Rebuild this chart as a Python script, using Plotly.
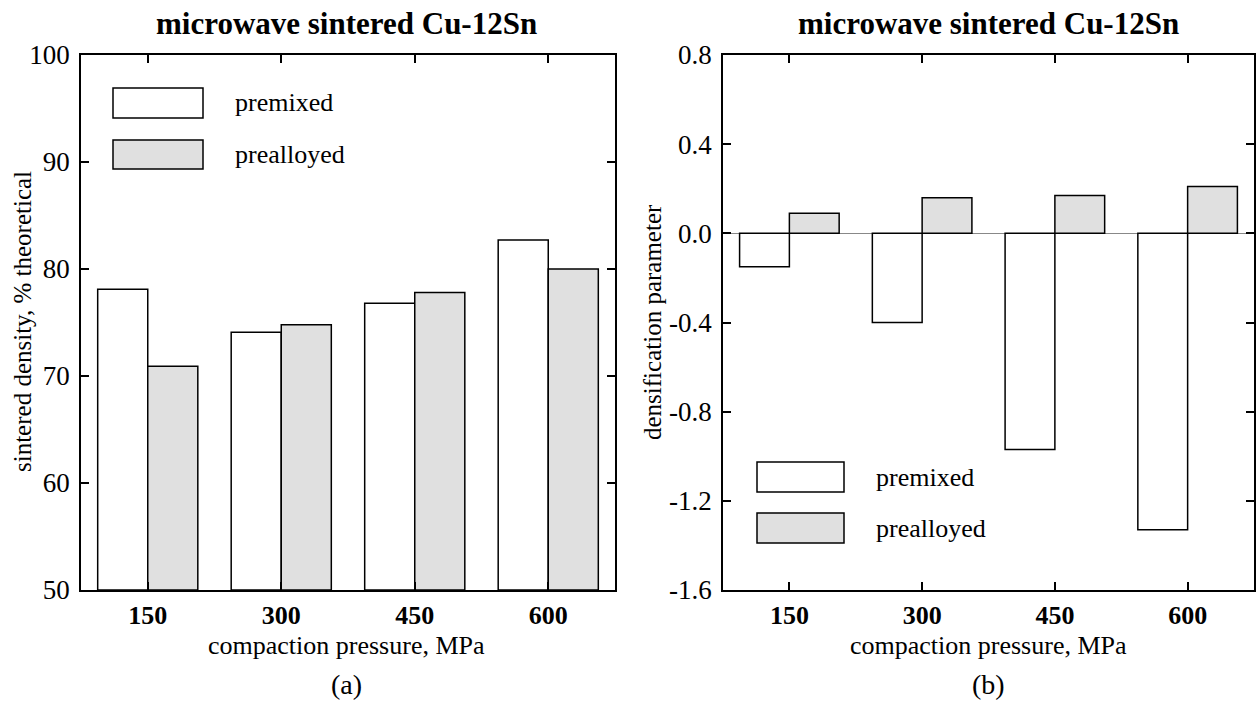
import plotly.graph_objects as go

categories = ["150", "300", "450", "600"]
density_premixed = [78.1, 74.1, 76.8, 82.7]
density_prealloyed = [70.9, 74.8, 77.8, 80.0]
densif_premixed = [-0.15, -0.40, -0.97, -1.33]
densif_prealloyed = [0.09, 0.16, 0.17, 0.21]
left_yticks = [50, 60, 70, 80, 90, 100]
right_yticks = [-1.6, -1.2, -0.8, -0.4, 0.0, 0.4, 0.8]
right_yticklabels = ["-1.6", "-1.2", "-0.8", "-0.4", "0.0", "0.4", "0.8"]

W, H = 1256, 704
FONT = "Liberation Serif"
GRAY = "#e0e0e0"

fig = go.Figure()
bar_line = dict(color="black", width=1.5)
base_left = left_yticks[0]
fig.add_trace(go.Bar(x=categories, y=[v - base_left for v in density_premixed],
                     base=[base_left] * len(categories), name="premixed",
                     marker=dict(color="white", line=bar_line), xaxis="x", yaxis="y"))
fig.add_trace(go.Bar(x=categories, y=[v - base_left for v in density_prealloyed],
                     base=[base_left] * len(categories), name="prealloyed",
                     marker=dict(color=GRAY, line=bar_line), xaxis="x", yaxis="y"))
fig.add_trace(go.Bar(x=categories, y=densif_premixed, name="premixed",
                     marker=dict(color="white", line=bar_line), xaxis="x2", yaxis="y2"))
fig.add_trace(go.Bar(x=categories, y=densif_prealloyed, name="prealloyed",
                     marker=dict(color=GRAY, line=bar_line), xaxis="x2", yaxis="y2"))

xd1 = [81 / W, 615 / W]
xd2 = [723 / W, 1254 / W]
yd = [(H - 590) / H, (H - 55) / H]

common_x = dict(type="category", range=[-0.5, 3.5], showline=True, linecolor="black",
                linewidth=1.5, mirror="allticks", ticks="inside", ticklen=8,
                tickwidth=1.5, tickcolor="black", showgrid=False, zeroline=False,
                automargin=False,
                tickvals=categories, ticktext=["<b>%s</b>" % c for c in categories],
                tickfont=dict(family=FONT, size=26, color="black"), ticklabelstandoff=1)
common_y = dict(showline=True, linecolor="black", linewidth=1.5, mirror="allticks",
                ticks="inside", ticklen=8, tickwidth=1.5, tickcolor="black",
                showgrid=False, automargin=False,
                tickfont=dict(family=FONT, size=27, color="black"),
                ticklabelstandoff=4)

fig.update_layout(
    template="none",
    width=W, height=H, margin=dict(l=0, r=0, t=0, b=0, autoexpand=False),
    paper_bgcolor="white", plot_bgcolor="white", showlegend=False,
    barmode="group", bargap=0.25, bargroupgap=0,
    xaxis=dict(domain=xd1, anchor="y", **common_x),
    yaxis=dict(domain=yd, anchor="x", range=[50, 100], tickvals=left_yticks,
               zeroline=False, **common_y),
    xaxis2=dict(domain=xd2, anchor="y2", **common_x),
    yaxis2=dict(domain=yd, anchor="x2", range=[-1.6, 0.8], tickvals=right_yticks,
                ticktext=right_yticklabels, zeroline=True, zerolinecolor="#888888",
                zerolinewidth=1, **common_y),
)

def px_x(x):
    return x / W

def px_y(y):
    return 1 - y / H

ann = []
for cx, lab, ytitle, ytx in [(346, "(a)", "sintered density, % theoretical", 22),
                              (988, "(b)", "densification parameter", 652)]:
    ann.append(dict(x=px_x(cx), y=px_y(23), text="<b>microwave sintered Cu-12Sn</b>",
                    font=dict(family=FONT, size=31, color="black")))
    ann.append(dict(x=px_x(cx), y=px_y(645), text="compaction pressure, MPa",
                    font=dict(family=FONT, size=26, color="black")))
    ann.append(dict(x=px_x(cx), y=px_y(684), text=lab,
                    font=dict(family=FONT, size=28, color="black")))
    ann.append(dict(x=px_x(ytx), y=px_y(322), text=ytitle, textangle=-90,
                    font=dict(family=FONT, size=25, color="black")))

shapes = []
for (x0, x1, y0a, y1a, y0b, y1b, tx) in [(113, 203, 88, 118, 140, 169, 233),
                                         (757, 844, 462, 492, 513, 543, 874)]:
    shapes.append(dict(type="rect", xref="paper", yref="paper", x0=px_x(x0), x1=px_x(x1),
                       y0=px_y(y1a), y1=px_y(y0a), fillcolor="white",
                       line=dict(color="black", width=1.5)))
    shapes.append(dict(type="rect", xref="paper", yref="paper", x0=px_x(x0), x1=px_x(x1),
                       y0=px_y(y1b), y1=px_y(y0b), fillcolor=GRAY,
                       line=dict(color="black", width=1.5)))
    ann.append(dict(x=px_x(tx), y=px_y((y0a + y1a) / 2), text="premixed", xanchor="left",
                    font=dict(family=FONT, size=26, color="black")))
    ann.append(dict(x=px_x(tx), y=px_y((y0b + y1b) / 2), text="prealloyed", xanchor="left",
                    font=dict(family=FONT, size=26, color="black")))

for a in ann:
    a.update(xref="paper", yref="paper", showarrow=False)
    a.setdefault("xanchor", "center")
    a.setdefault("yanchor", "middle")

fig.update_layout(annotations=ann, shapes=shapes)
fig.write_html("out.html")
